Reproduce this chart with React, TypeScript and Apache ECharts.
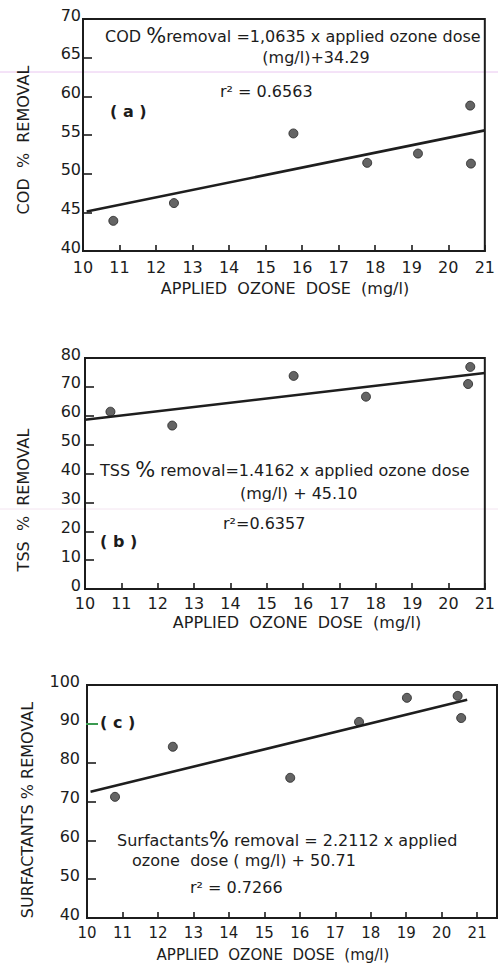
import React, { useEffect, useRef } from "react";
import * as echarts from "echarts";

// ---- data ----
const DOSE_A = [10.83, 12.49, 15.76, 17.78, 19.17, 20.6, 20.62];
const COD_REMOVAL = [43.9, 46.2, 55.2, 51.4, 52.6, 58.8, 51.3];
const FIT_A_X = [10.1, 21];
const FIT_A_Y = [45.1, 55.6];

const DOSE_B = [10.7, 12.4, 15.74, 17.73, 20.6, 20.54];
const TSS_REMOVAL = [61.4, 56.6, 73.8, 66.6, 76.9, 71.0];
const FIT_B_X = [10, 21];
const FIT_B_Y = [58.6, 74.8];

const DOSE_C = [10.79, 12.42, 15.73, 17.67, 19.02, 20.45, 20.55];
const SURF_REMOVAL = [71.2, 84.1, 76.1, 90.5, 96.7, 97.2, 91.5];
const FIT_C_X = [10.1, 20.72];
const FIT_C_Y = [72.5, 96.2];

const X_TITLE = "APPLIED  OZONE  DOSE  (mg/l)";
const Y_TITLES = ["COD  %  REMOVAL", "TSS  %  REMOVAL", "SURFACTANTS % REMOVAL"];

const FONT = "DejaVu Sans";
const INK = "#1c1c1c";

const zip = (xs: number[], ys: number[]) => xs.map((x, i) => [x, ys[i]]);

export default function App() {
  const ref = useRef<HTMLDivElement>(null);
  useEffect(() => {
    if (!ref.current) return;
    const chart = echarts.init(ref.current, undefined, { renderer: "svg" });

    const grids = [
      { left: 83, width: 410, top: 19, height: 232 },
      { left: 85, width: 408, top: 358, height: 231 },
      { left: 87, width: 410, top: 685, height: 233 },
    ];
    const yRanges = [
      { min: 40, max: 70, interval: 5 },
      { min: 0, max: 80, interval: 10 },
      { min: 40, max: 100, interval: 10 },
    ];
    const xMax = [21, 21, 21.56];
    const xLabelMargin = [8, 6, 7];
    const xLabelSize = [16, 16, 15];

    const xAxes = grids.map((_, i) => ({
      type: "value",
      gridIndex: i,
      min: 10,
      max: xMax[i],
      interval: 1,
      splitLine: { show: false },
      axisLine: { show: true, lineStyle: { color: INK, width: 2 } },
      axisTick: { show: true, inside: true, length: 6, lineStyle: { color: INK, width: 1.6 } },
      axisLabel: {
        color: INK,
        fontFamily: FONT,
        fontSize: xLabelSize[i],
        margin: xLabelMargin[i],
        showMaxLabel: i < 2,
        formatter: (v: number) => (Number.isInteger(v) ? String(v) : ""),
      },
    }));
    const yAxes = grids.map((_, i) => ({
      type: "value",
      gridIndex: i,
      ...yRanges[i],
      splitLine: { show: false },
      axisLine: { show: true, lineStyle: { color: INK, width: 2 } },
      axisTick: { show: true, inside: true, length: 9, lineStyle: { color: INK, width: 1.6 } },
      axisLabel: {
        color: INK,
        fontFamily: FONT,
        fontSize: 16,
        margin: i === 0 ? 2 : i === 1 ? 4 : 7,
        verticalAlign: "bottom",
        lineHeight: 8,
      },
    }));

    const scatterStyle = { color: "#3d3d3d", borderColor: "#222", borderWidth: 1 };
    const lineStyle = { color: "#1e1e1e", width: 2.6 };
    const series: any[] = [
      { type: "scatter", xAxisIndex: 0, yAxisIndex: 0, data: zip(DOSE_A, COD_REMOVAL), symbolSize: 9, itemStyle: scatterStyle },
      { type: "line", xAxisIndex: 0, yAxisIndex: 0, data: zip(FIT_A_X, FIT_A_Y), showSymbol: false, lineStyle },
      { type: "scatter", xAxisIndex: 1, yAxisIndex: 1, data: zip(DOSE_B, TSS_REMOVAL), symbolSize: 9, itemStyle: scatterStyle },
      { type: "line", xAxisIndex: 1, yAxisIndex: 1, data: zip(FIT_B_X, FIT_B_Y), showSymbol: false, lineStyle },
      { type: "scatter", xAxisIndex: 2, yAxisIndex: 2, data: zip(DOSE_C, SURF_REMOVAL), symbolSize: 9, itemStyle: scatterStyle },
      { type: "line", xAxisIndex: 2, yAxisIndex: 2, data: zip(FIT_C_X, FIT_C_Y), showSymbol: false, lineStyle },
    ];

    const rich = { p: { fontSize: 21, fontFamily: FONT, fill: INK } };
    const txt = (text: string, x: number, y: number, size = 16, align = "left", extra: any = {}) => ({
      type: "text",
      x,
      y,
      silent: true,
      style: {
        text,
        fontFamily: FONT,
        fontSize: size,
        fill: INK,
        align,
        verticalAlign: "middle",
        rich,
        ...extra,
      },
    });
    const vtitle = (text: string, x: number, y: number) => ({
      type: "text",
      x,
      y,
      rotation: Math.PI / 2,
      silent: true,
      style: { text, fontFamily: FONT, fontSize: 16, fill: INK, align: "center", verticalAlign: "middle" },
    });

    const graphic: any[] = [
      // scan artefact lines
      { type: "line", shape: { x1: 0, y1: 72, x2: 498, y2: 72 }, style: { stroke: "#e9c6f0", lineWidth: 1 }, silent: true, z: -1 },
      { type: "line", shape: { x1: 0, y1: 509, x2: 498, y2: 509 }, style: { stroke: "#f3e4f0", lineWidth: 1 }, silent: true, z: -1 },
      // green tick mark at 90 in panel (c)
      { type: "line", shape: { x1: 86, y1: 724, x2: 98, y2: 724 }, style: { stroke: "#3a9a50", lineWidth: 2 }, silent: true, z: 100 },
      // panel (a)
      txt("COD {p|%}removal =1,0635 x applied ozone dose", 105, 36),
      txt("(mg/l)+34.29", 316, 57, 16, "center"),
      txt("r² = 0.6563", 220, 91),
      txt("( a )", 110, 111, 16, "left", { fontWeight: "bold" }),
      // panel (b)
      txt("TSS {p|%} removal=1.4162 x applied ozone dose", 100, 470),
      txt("(mg/l) + 45.10", 240, 493),
      txt("r²=0.6357", 223, 523),
      txt("( b )", 100, 541, 16, "left", { fontWeight: "bold" }),
      // panel (c)
      txt("Surfactants{p|%} removal = 2.2112 x applied", 117, 840),
      txt("ozone  dose ( mg/l) + 50.71", 132, 860),
      txt("r² = 0.7266", 190, 887),
      txt("( c )", 100, 722, 16, "left", { fontWeight: "bold" }),
      // axis titles
      vtitle(Y_TITLES[0], 23, 140),
      vtitle(Y_TITLES[1], 23, 500),
      vtitle(Y_TITLES[2], 27, 810),
      txt(X_TITLE, 285, 288, 16, "center"),
      txt(X_TITLE, 297, 622, 16, "center"),
      txt(X_TITLE, 273, 955, 15, "center"),
    ];

    chart.setOption({
      animation: false,
      backgroundColor: "#ffffff",
      grid: grids.map((g) => ({ ...g, show: true, borderColor: INK, borderWidth: 2, backgroundColor: "transparent" })),
      xAxis: xAxes,
      yAxis: yAxes,
      series,
      graphic,
    });
    return () => chart.dispose();
  }, []);

  return (
    <div
      ref={ref}
      style={{ position: "fixed", left: 0, top: 0, width: 498, height: 964, background: "#fff" }}
    />
  );
}
